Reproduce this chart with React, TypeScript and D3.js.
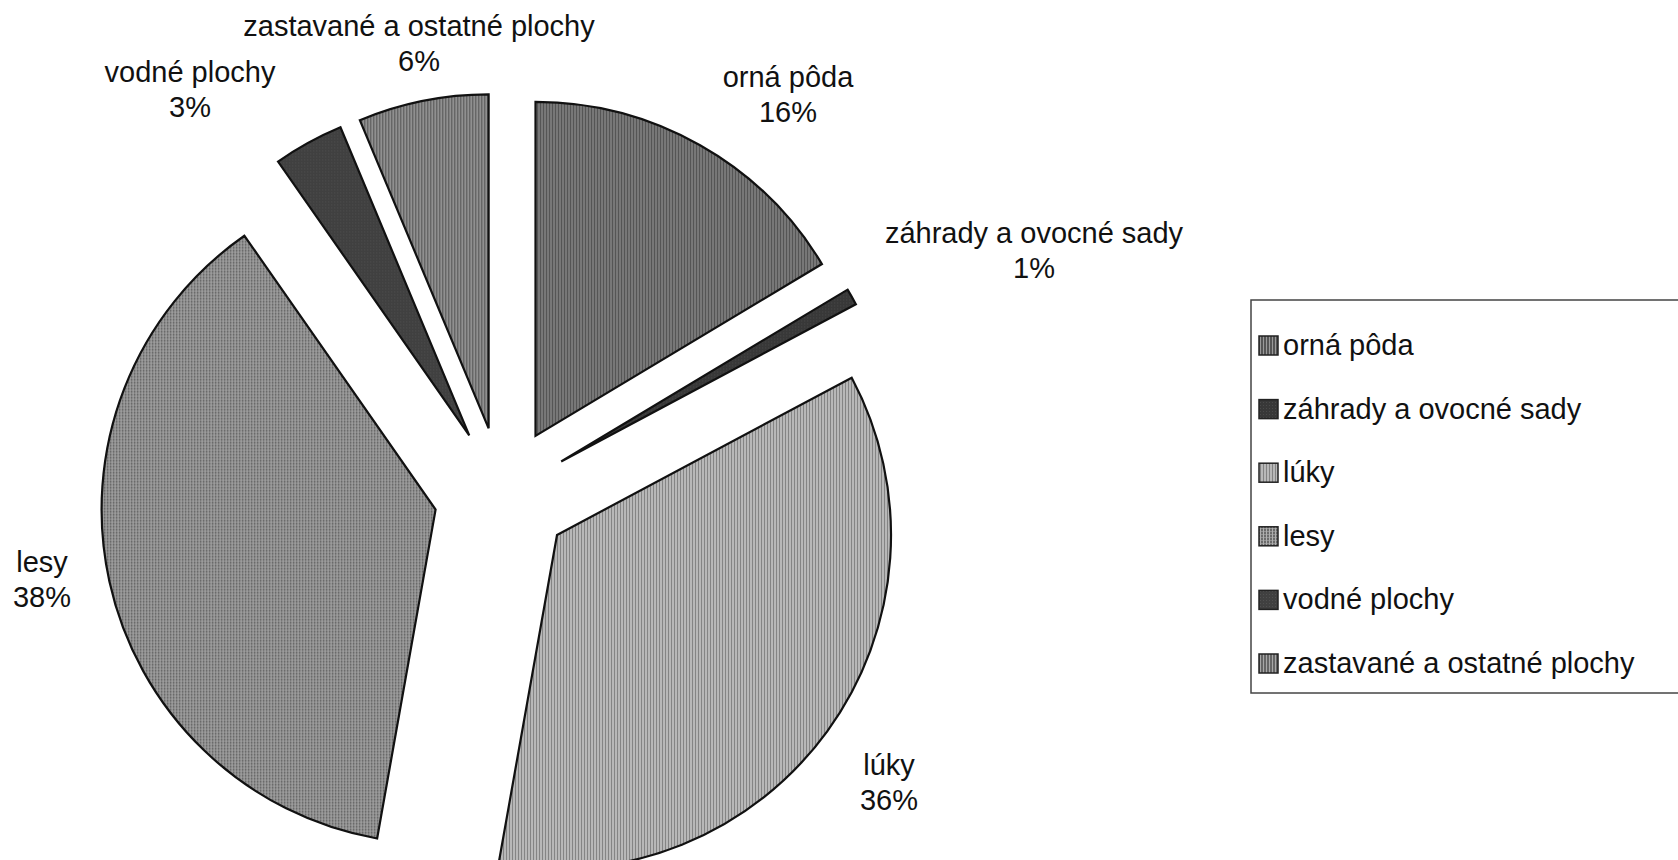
import React from "react";
import * as d3 from "d3";

const categories = [
  "orná pôda",
  "záhrady a ovocné sady",
  "lúky",
  "lesy",
  "vodné plochy",
  "zastavané a ostatné plochy",
];
// shares (%); labels show them rounded
const values = [16.4, 0.8, 35.6, 37.5, 3.4, 6.3];
const percentLabels = ["16%", "1%", "36%", "38%", "3%", "6%"];

// layout (not data)
const W = 1678;
const H = 860;
const CX = 502;
const CY = 495;
const R = 334;
const EXPLODE = 68;
const FONT = "'Liberation Sans', Arial, Helvetica, sans-serif";
const FS = 29;
// label anchors: [centerX, firstBaselineY]
const labelPos: [number, number][] = [
  [788, 87],
  [1034, 243],
  [889, 775],
  [42, 572],
  [190, 82],
  [419, 36],
];

type Pat = { id: string; base: string; line: string; kind: "v" | "grid" | "solid"; step: number };
const patterns: Pat[] = [
  { id: "p0", base: "#555", line: "#9a9a9a", kind: "v", step: 3 },
  { id: "p1", base: "#383838", line: "#4a4a4a", kind: "solid", step: 3 },
  { id: "p2", base: "#b8b8b8", line: "#838383", kind: "v", step: 3 },
  { id: "p3", base: "#6a6a6a", line: "#aeaeae", kind: "grid", step: 3 },
  { id: "p4", base: "#404040", line: "#505050", kind: "solid", step: 3 },
  { id: "p5", base: "#666", line: "#a8a8a8", kind: "v", step: 3 },
];

export default function App() {
  const pie = d3
    .pie<number>()
    .sort(null)
    .value((v) => v)
    .startAngle(0)
    .endAngle(2 * Math.PI);
  const arcs = pie(values);
  const arcGen = d3.arc<d3.PieArcDatum<number>>().innerRadius(0).outerRadius(R);

  const legendX = 1251;
  const legendY = 300;
  const legendH = 393;
  const itemY0 = 345;
  const itemStep = 63.6;
  const iconX = 1259;
  const textX = 1283;

  return (
    <svg
      width={W}
      height={H}
      style={{ position: "absolute", left: 0, top: 0, display: "block", background: "#fff" }}
    >
      <defs>
        {patterns.map((p) => (
          <pattern key={p.id} id={p.id} width={p.step} height={3} patternUnits="userSpaceOnUse">
            <rect width={p.step} height={3} fill={p.base} />
            {p.kind === "v" && <rect x={0} y={0} width={1} height={3} fill={p.line} />}
            {p.kind === "grid" && (
              <>
                <rect x={0} y={0} width={1} height={3} fill={p.line} />
                <rect x={0} y={0} width={3} height={1} fill={p.line} opacity={0.6} />
              </>
            )}
            {p.kind === "solid" && <rect x={0} y={0} width={1} height={1} fill={p.line} />}
          </pattern>
        ))}
      </defs>
      <rect width={W} height={H} fill="#fff" />
      <g transform={`translate(${CX},${CY})`}>
        {arcs.map((a, i) => {
          const mid = (a.startAngle + a.endAngle) / 2;
          const dx = Math.sin(mid) * EXPLODE;
          const dy = -Math.cos(mid) * EXPLODE;
          return (
            <path
              key={i}
              d={arcGen(a) || ""}
              transform={`translate(${dx},${dy})`}
              fill={`url(#${patterns[i].id})`}
              stroke="#111"
              strokeWidth={2.2}
              strokeLinejoin="miter"
            />
          );
        })}
      </g>
      {categories.map((c, i) => (
        <text key={c} x={labelPos[i][0]} y={labelPos[i][1]} textAnchor="middle" fontFamily={FONT} fontSize={FS} fill="#111">
          <tspan x={labelPos[i][0]}>{c}</tspan>
          <tspan x={labelPos[i][0]} dy={35}>{percentLabels[i]}</tspan>
        </text>
      ))}
      <rect x={legendX} y={legendY} width={W - legendX + 10} height={legendH} fill="#fff" stroke="#444" strokeWidth={1.5} />
      {categories.map((c, i) => {
        const y = itemY0 + i * itemStep;
        return (
          <g key={c}>
            <rect x={iconX} y={y - 9} width={19} height={19} fill={`url(#${patterns[i].id})`} stroke="#222" strokeWidth={1.5} />
            <text x={textX} y={y + 10} fontFamily={FONT} fontSize={FS} fill="#111">
              {c}
            </text>
          </g>
        );
      })}
    </svg>
  );
}
